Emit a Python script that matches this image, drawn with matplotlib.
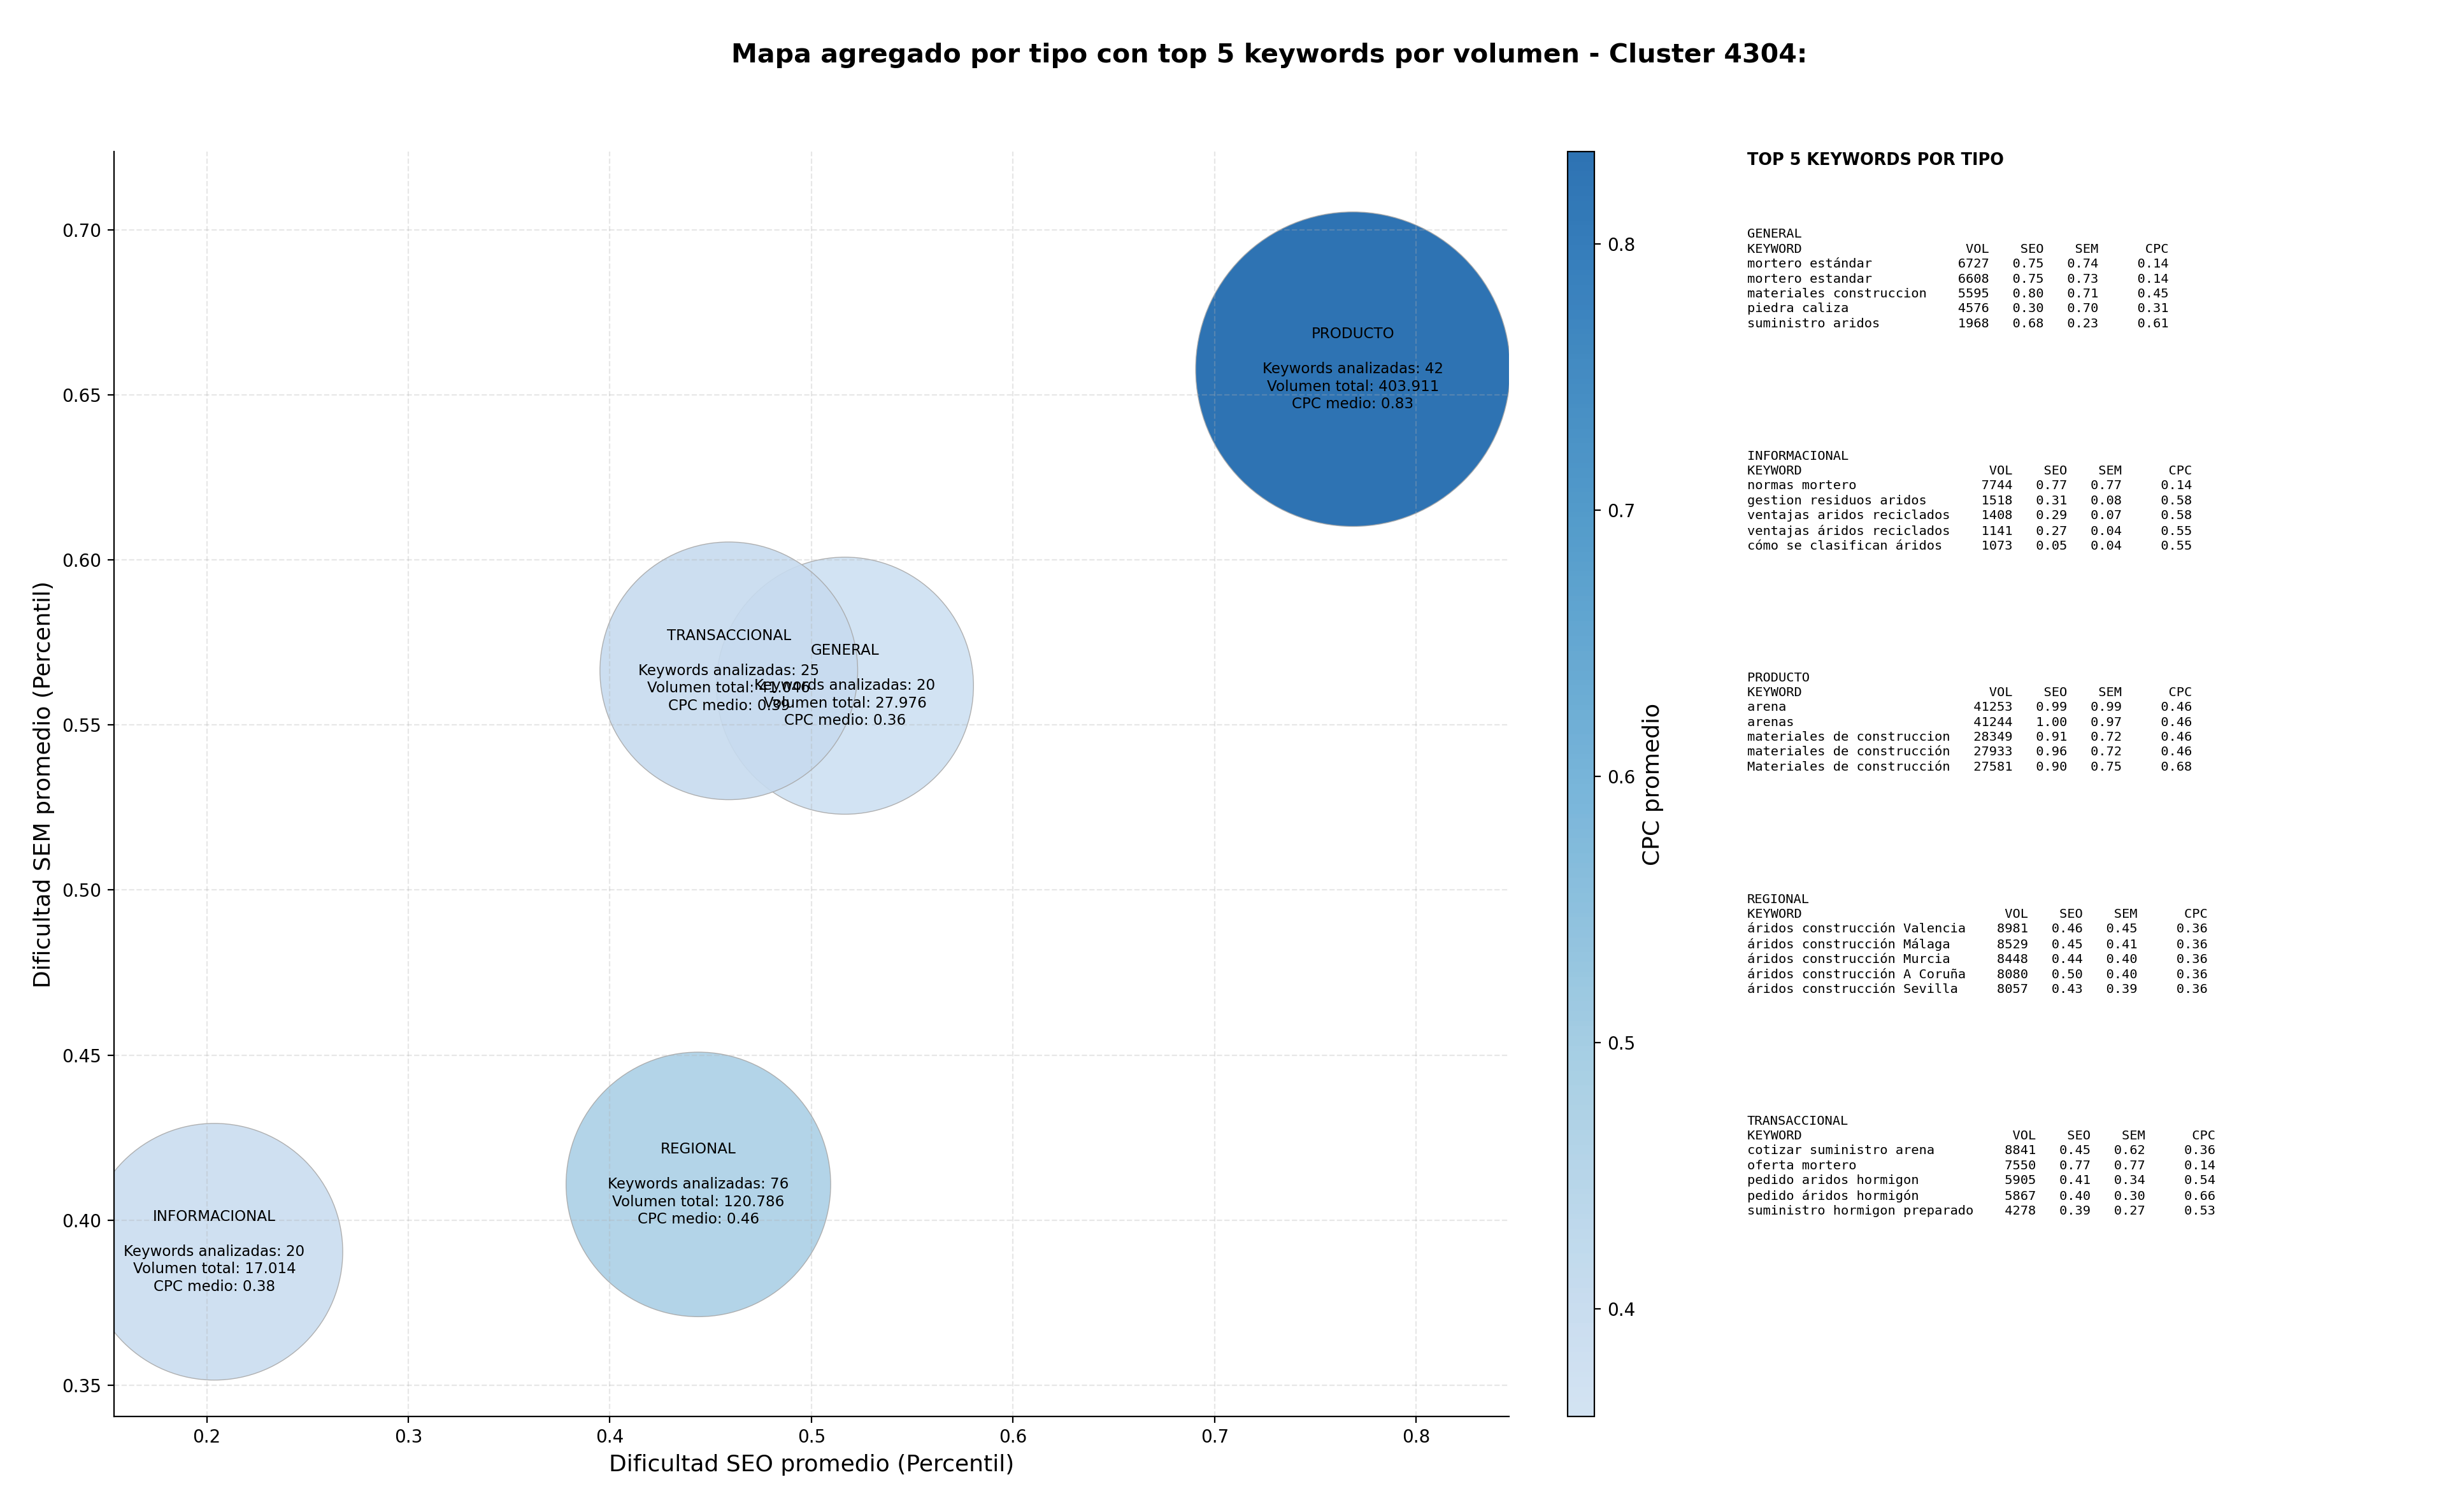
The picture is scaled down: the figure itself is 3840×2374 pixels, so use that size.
import numpy as np
import matplotlib
matplotlib.use("Agg")
import matplotlib.pyplot as plt
from matplotlib.colors import ListedColormap, Normalize

# ---------------- data ----------------
tipos = ["GENERAL", "INFORMACIONAL", "PRODUCTO", "REGIONAL", "TRANSACCIONAL"]
seo_prom = [0.5166, 0.2038, 0.7686, 0.4439, 0.4590]
sem_prom = [0.5619, 0.3904, 0.6578, 0.4108, 0.5664]
cpc_prom = [0.3596, 0.38, 0.8346, 0.46, 0.39]
n_keywords = [20, 20, 42, 76, 25]
vol_total = [27976, 17014, 403911, 120786, 41046]

top5_general = [
    ("mortero estándar", 6727, 0.75, 0.74, 0.14),
    ("mortero estandar", 6608, 0.75, 0.73, 0.14),
    ("materiales construccion", 5595, 0.80, 0.71, 0.45),
    ("piedra caliza", 4576, 0.30, 0.70, 0.31),
    ("suministro aridos", 1968, 0.68, 0.23, 0.61),
]
top5_informacional = [
    ("normas mortero", 7744, 0.77, 0.77, 0.14),
    ("gestion residuos aridos", 1518, 0.31, 0.08, 0.58),
    ("ventajas aridos reciclados", 1408, 0.29, 0.07, 0.58),
    ("ventajas áridos reciclados", 1141, 0.27, 0.04, 0.55),
    ("cómo se clasifican áridos", 1073, 0.05, 0.04, 0.55),
]
top5_producto = [
    ("arena", 41253, 0.99, 0.99, 0.46),
    ("arenas", 41244, 1.00, 0.97, 0.46),
    ("materiales de construccion", 28349, 0.91, 0.72, 0.46),
    ("materiales de construcción", 27933, 0.96, 0.72, 0.46),
    ("Materiales de construcción", 27581, 0.90, 0.75, 0.68),
]
top5_regional = [
    ("áridos construcción Valencia", 8981, 0.46, 0.45, 0.36),
    ("áridos construcción Málaga", 8529, 0.45, 0.41, 0.36),
    ("áridos construcción Murcia", 8448, 0.44, 0.40, 0.36),
    ("áridos construcción A Coruña", 8080, 0.50, 0.40, 0.36),
    ("áridos construcción Sevilla", 8057, 0.43, 0.39, 0.36),
]
top5_transaccional = [
    ("cotizar suministro arena", 8841, 0.45, 0.62, 0.36),
    ("oferta mortero", 7550, 0.77, 0.77, 0.14),
    ("pedido aridos hormigon", 5905, 0.41, 0.34, 0.54),
    ("pedido áridos hormigón", 5867, 0.40, 0.30, 0.66),
    ("suministro hormigon preparado", 4278, 0.39, 0.27, 0.53),
]

# ---------------- figure ----------------
fig = plt.figure(figsize=(19.2, 11.87), dpi=200)
ax = fig.add_axes([0.0466, 0.0632, 0.5703, 0.8365])
cax = fig.add_axes([0.6408, 0.0632, 0.0111, 0.8365])

cmap = ListedColormap(plt.cm.Blues(np.linspace(0.21, 0.8, 256)))
vol_arr = np.array(vol_total, dtype=float)
sizes = 21000 + 10600 * (vol_arr / vol_arr.max()) ** 1.7

sc = ax.scatter(seo_prom, sem_prom, s=sizes, c=cpc_prom, cmap=cmap,
                norm=Normalize(vmin=min(cpc_prom), vmax=max(cpc_prom)),
                alpha=0.9, edgecolors="#a8a8a8", linewidths=0.5)

def fmt_vol(v):
    return f"{v:,}".replace(",", ".")

for t, x, y, n, v, c in zip(tipos, seo_prom, sem_prom, n_keywords, vol_total, cpc_prom):
    ax.text(x, y, f"{t}\n\nKeywords analizadas: {n}\nVolumen total: {fmt_vol(v)}\nCPC medio: {c:.2f}",
            ha="center", va="center", fontsize=8.3, linespacing=1.25,
            multialignment="center")

ax.set_xlim(0.154, 0.846)
ax.set_ylim(0.3405, 0.7237)
ax.grid(True, linestyle="--", alpha=0.3)
ax.spines["top"].set_visible(False)
ax.spines["right"].set_visible(False)
ax.tick_params(labelsize=10)
ax.set_xlabel("Dificultad SEO promedio (Percentil)", fontsize=13)
ax.set_ylabel("Dificultad SEM promedio (Percentil)", fontsize=13)

cb = fig.colorbar(sc, cax=cax)
cb.set_label("CPC promedio", fontsize=13)
cb.ax.tick_params(labelsize=10)

fig.text(0.519, 0.9635, "Mapa agregado por tipo con top 5 keywords por volumen - Cluster 4304:",
         ha="center", va="center", fontsize=14.8, fontweight="bold")

fig.text(0.7143, 0.8937, "TOP 5 KEYWORDS POR TIPO", ha="left", va="center",
         fontsize=9.2, fontweight="bold")

blocks = [("GENERAL", top5_general), ("INFORMACIONAL", top5_informacional),
          ("PRODUCTO", top5_producto), ("REGIONAL", top5_regional),
          ("TRANSACCIONAL", top5_transaccional)]
y0 = 0.8490
for i, (name, rows) in enumerate(blocks):
    w = max(len(r[0]) for r in rows)
    lines = [name, f"{'KEYWORD':<{w}}{'VOL':>8}{'SEO':>7}{'SEM':>7}{'CPC':>9}"]
    for kw, v, s_, m_, c_ in rows:
        lines.append(f"{kw:<{w}}{v:>8}{s_:>7.2f}{m_:>7.2f}{c_:>9.2f}")
    fig.text(0.7143, y0 - i * 0.1466, "\n".join(lines), ha="left", va="top",
             fontsize=7.35, linespacing=1.29, family="DejaVu Sans Mono")

fig.savefig("out.png", dpi=200)
